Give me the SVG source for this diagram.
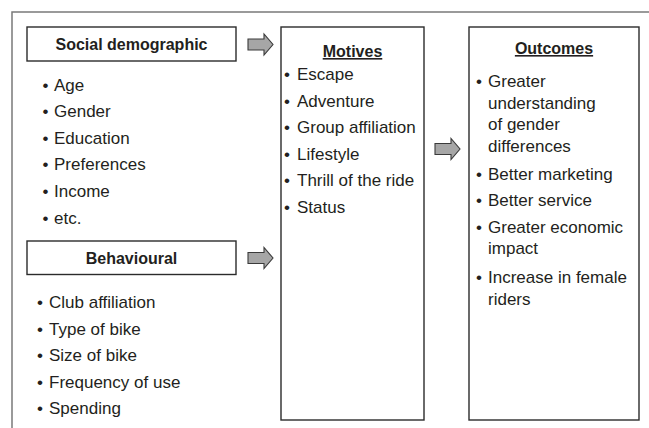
<svg xmlns="http://www.w3.org/2000/svg" width="649" height="428" viewBox="0 0 649 428">
<style>
.box{fill:#fff;stroke:#2b2b2b;stroke-width:1.4}
.frame{fill:none;stroke:#7a7a7a;stroke-width:1.5}
.head{font-family:"Liberation Sans",Arial,sans-serif;font-weight:bold;font-size:16px;fill:#231f20;text-anchor:middle}
.item{font-family:"Liberation Sans",Arial,sans-serif;font-size:17px;fill:#231f20}
.arrow{fill:#a6a6a6;stroke:#3a3a3a;stroke-width:1.1;stroke-linejoin:miter}
</style>
<defs>
<path id="blk" class="arrow" d="M0,-5.5 H16 V-10.5 L25,0 L16,10.5 V5.5 H0 Z"/>
</defs>
<rect width="649" height="428" fill="#fff"/>
<path class="frame" d="M12,428 V12 H649"/>

<g id="social">
<rect class="box" x="27" y="27" width="209" height="34"/>
<text class="head" x="131.5" y="50">Social demographic</text>
<text class="item">
<tspan x="42.5" y="90.5">•</tspan><tspan x="54" y="90.5">Age</tspan>
<tspan x="42.5" y="117">•</tspan><tspan x="54" y="117">Gender</tspan>
<tspan x="42.5" y="143.5">•</tspan><tspan x="54" y="143.5">Education</tspan>
<tspan x="42.5" y="170">•</tspan><tspan x="54" y="170">Preferences</tspan>
<tspan x="42.5" y="197">•</tspan><tspan x="54" y="197">Income</tspan>
<tspan x="42.5" y="224">•</tspan><tspan x="54" y="224">etc.</tspan>
</text>
</g>

<g id="behavioural">
<rect class="box" x="27" y="241" width="209" height="33.5"/>
<text class="head" x="131.5" y="264">Behavioural</text>
<text class="item">
<tspan x="37" y="308">•</tspan><tspan x="49" y="308">Club affiliation</tspan>
<tspan x="37" y="334.5">•</tspan><tspan x="49" y="334.5">Type of bike</tspan>
<tspan x="37" y="361">•</tspan><tspan x="49" y="361">Size of bike</tspan>
<tspan x="37" y="387.5">•</tspan><tspan x="49" y="387.5">Frequency of use</tspan>
<tspan x="37" y="414">•</tspan><tspan x="49" y="414">Spending</tspan>
</text>
</g>

<g id="motives">
<rect class="box" x="281" y="27" width="143" height="393"/>
<text class="head" x="352.5" y="57" text-decoration="underline">Motives</text>
<text class="item">
<tspan x="284" y="80">•</tspan><tspan x="297" y="80">Escape</tspan>
<tspan x="284" y="106.5">•</tspan><tspan x="297" y="106.5">Adventure</tspan>
<tspan x="284" y="133">•</tspan><tspan x="297" y="133">Group affiliation</tspan>
<tspan x="284" y="159.5">•</tspan><tspan x="297" y="159.5">Lifestyle</tspan>
<tspan x="284" y="186">•</tspan><tspan x="297" y="186">Thrill of the ride</tspan>
<tspan x="284" y="212.5">•</tspan><tspan x="297" y="212.5">Status</tspan>
</text>
</g>

<g id="outcomes">
<rect class="box" x="469" y="27" width="170" height="393"/>
<text class="head" x="554" y="54" text-decoration="underline">Outcomes</text>
<text class="item">
<tspan x="476" y="87">•</tspan><tspan x="488" y="87">Greater</tspan>
<tspan x="488" y="108.5">understanding</tspan>
<tspan x="488" y="130">of gender</tspan>
<tspan x="488" y="151.5">differences</tspan>
<tspan x="476" y="179.5">•</tspan><tspan x="488" y="179.5">Better marketing</tspan>
<tspan x="476" y="205.5">•</tspan><tspan x="488" y="205.5">Better service</tspan>
<tspan x="476" y="232.5">•</tspan><tspan x="488" y="232.5">Greater economic</tspan>
<tspan x="488" y="254">impact</tspan>
<tspan x="476" y="283">•</tspan><tspan x="488" y="283">Increase in female</tspan>
<tspan x="488" y="304.5">riders</tspan>
</text>
</g>

<g id="connectors">
<use href="#blk" x="248" y="44.5"/>
<use href="#blk" x="248" y="258"/>
<use href="#blk" x="435" y="149"/>
</g>
</svg>
